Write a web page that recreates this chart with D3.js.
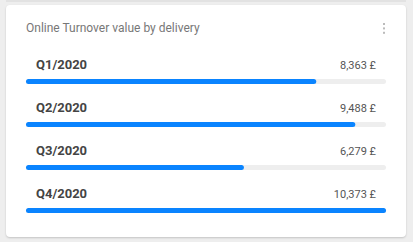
<!DOCTYPE html>
<html lang="en">
<head>
    <meta charset="UTF-8">
    <title>Online Turnover value by delivery</title>
    <script src="https://cdnjs.cloudflare.com/ajax/libs/d3/7.8.2/d3.min.js"></script>
    <style>
        body {
            margin: 0;
            background-color: #eeeeee;
            font-family: Roboto, Arial, sans-serif;
        }
        #prev {
            position: absolute;
            left: 6px;
            top: 0;
            width: 400px;
            height: 2px;
            background: #e2e2e2;
        }
        #card {
            position: absolute;
            left: 6px;
            top: 5px;
            width: 400px;
            height: 232px;
            background: #fff;
            border-radius: 4px;
            box-shadow: 0 1px 2px rgba(0,0,0,0.18);
        }
        svg { position: absolute; left: 0; top: 0; }
    </style>
</head>
<body>
    <div id="prev"></div>
    <div id="card"></div>
    <script>
        // Data
        const quarters = ["Q1/2020", "Q2/2020", "Q3/2020", "Q4/2020"];
        const turnover = [8363, 9488, 6279, 10373];
        const valueLabels = ["8,363 £", "9,488 £", "6,279 £", "10,373 £"];

        const width = 413, height = 242;
        const svg = d3.select("body").append("svg")
            .attr("width", width)
            .attr("height", height);

        // Title
        svg.append("text")
            .attr("x", 26)
            .attr("y", 32)
            .attr("fill", "#777")
            .attr("font-size", "12px")
            .text("Online Turnover value by delivery");

        // Menu dots
        svg.append("g")
            .selectAll("rect")
            .data([0, 1, 2])
            .enter()
            .append("rect")
            .attr("x", 383)
            .attr("y", d => 23 + d * 4.4)
            .attr("width", 2)
            .attr("height", 2)
            .attr("fill", "#bbb");

        const x = d3.scaleLinear()
            .domain([0, d3.max(turnover)])
            .range([26, 386]);

        const y = d3.scaleBand()
            .domain(quarters)
            .range([50, 222])
            .padding(0);

        const row = svg.append("g")
            .selectAll("g")
            .data(quarters)
            .enter()
            .append("g")
            .attr("transform", d => `translate(0, ${y(d)})`);

        // Quarter labels
        row.append("text")
            .attr("x", 36)
            .attr("y", 19)
            .attr("fill", "#444")
            .attr("font-size", "13px")
            .attr("font-weight", "bold")
            .text(d => d);

        // Value labels
        row.append("text")
            .attr("x", 376)
            .attr("y", 19)
            .attr("text-anchor", "end")
            .attr("fill", "#555")
            .attr("font-size", "11px")
            .text((d, i) => valueLabels[i]);

        // Track
        row.append("rect")
            .attr("x", x(0))
            .attr("y", 29)
            .attr("width", x(d3.max(turnover)) - x(0))
            .attr("height", 5)
            .attr("rx", 2.5)
            .attr("fill", "#eeeeee");

        // Filled bar
        row.append("rect")
            .attr("x", x(0))
            .attr("y", 29)
            .attr("width", (d, i) => x(turnover[i]) - x(0))
            .attr("height", 5)
            .attr("rx", 2.5)
            .attr("fill", "#0a84ff");
    </script>
</body>
</html>
